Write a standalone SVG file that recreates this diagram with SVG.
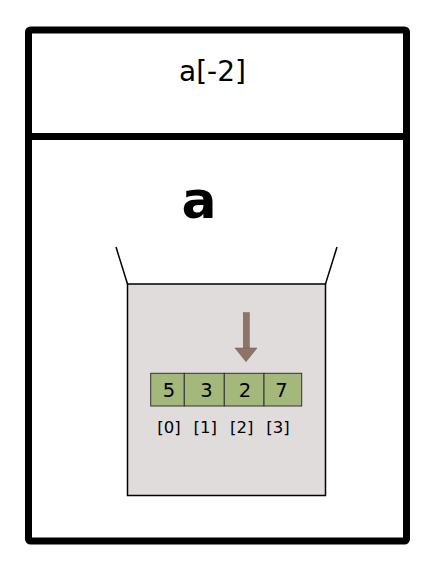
<svg xmlns="http://www.w3.org/2000/svg" width="442" height="576" viewBox="0 0 442 576">
<style>
.frame{fill:#fff;stroke:#000;stroke-width:7;stroke-linejoin:round}
.t{font-family:"DejaVu Sans",sans-serif;fill:#000;text-anchor:middle}
.cell{fill:#a3b87a;stroke:#333;stroke-width:1}
</style>
<rect width="442" height="576" fill="#fff"/>
<g id="outer">
<rect class="frame" x="28.5" y="30" width="378" height="511" rx="2"/>
<line x1="28.5" y1="136.5" x2="406.5" y2="136.5" stroke="#000" stroke-width="7"/>
<text class="t" x="212.5" y="81" font-size="28">a[-2]</text>
<text class="t" x="199" y="218" font-size="52" font-weight="bold">a</text>
</g>
<g id="container">
<line x1="116" y1="247" x2="127.5" y2="284" stroke="#000" stroke-width="1.5"/>
<line x1="337" y1="247" x2="325.5" y2="284" stroke="#000" stroke-width="1.5"/>
<rect x="127.5" y="284" width="198" height="211.5" fill="#e0dcdc" stroke="#000" stroke-width="1.5"/>
</g>
<g id="arrow">
<rect x="243.3" y="312.7" width="6" height="36" fill="#8c7468" stroke="#6e5a50" stroke-width="0.5"/>
<polygon points="235,348 257,348 246,361.7" fill="#8c7468" stroke="#6e5a50" stroke-width="0.5"/>
</g>
<g id="array">
<rect class="cell" x="150.7" y="373.3" width="33.6" height="32.7"/>
<rect class="cell" x="184.3" y="373.3" width="40" height="32.7"/>
<rect class="cell" x="224.3" y="373.3" width="39.7" height="32.7"/>
<rect class="cell" x="264" y="373.3" width="37.7" height="32.7"/>
<text class="t" x="169" y="397.3" font-size="19.5">5</text>
<text class="t" x="206.5" y="397.3" font-size="19.5">3</text>
<text class="t" x="245" y="397.3" font-size="19.5">2</text>
<text class="t" x="281.5" y="397.3" font-size="19.5">7</text>
<text class="t" x="169" y="432.7" font-size="16.5">[0]</text>
<text class="t" x="205.3" y="432.7" font-size="16.5">[1]</text>
<text class="t" x="241.7" y="432.7" font-size="16.5">[2]</text>
<text class="t" x="278" y="432.7" font-size="16.5">[3]</text>
</g>
</svg>
